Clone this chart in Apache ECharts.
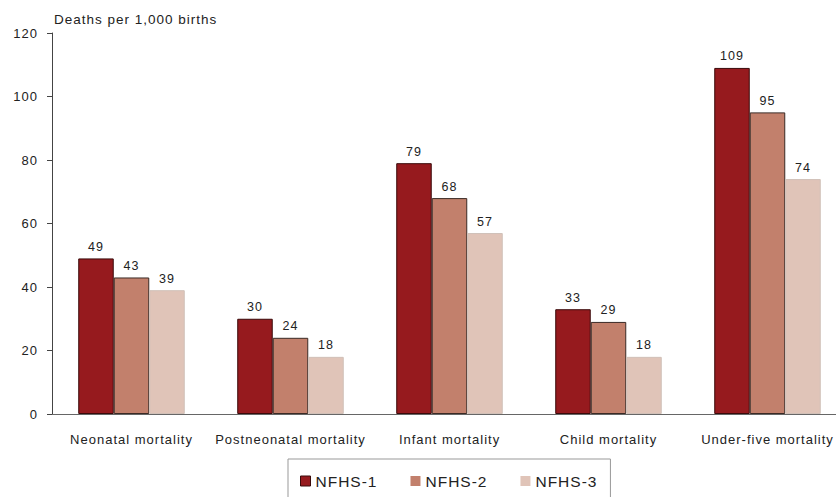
<!DOCTYPE html>
<html><head><meta charset="utf-8">
<script src="https://cdn.jsdelivr.net/npm/echarts@6/dist/echarts.min.js"></script>
<style>html,body{margin:0;padding:0;background:#fff;overflow:hidden;width:836px;height:497px}#c{width:860px;height:497px}#c text{letter-spacing:1px}</style>
</head><body><div id="c"></div>
<script>
const categories = ['Neonatal mortality','Postneonatal mortality','Infant mortality','Child mortality','Under-five mortality'];
const nfhs1 = [49, 30, 79, 33, 109];
const nfhs2 = [43, 24, 68, 29, 95];
const nfhs3 = [39, 18, 57, 18, 74];
const seriesNames = ['NFHS-1','NFHS-2','NFHS-3'];
const yTicks = {min: 0, max: 120, interval: 20};

const font = 'Liberation Sans, Arial, sans-serif';
const colors = ['#961A1E', '#C2806C', '#E0C4B8'];
const borders = ['#3a0a0a', '#3a2a25', '#d0c0b8'];
const chart = echarts.init(document.getElementById('c'), null, {renderer: 'svg'});
function mk(name, data, i) {
  return {
    name, type: 'bar', data,
    barGap: '0%', barCategoryGap: '33%',
    itemStyle: {color: colors[i], borderColor: borders[i], borderWidth: 1},
    label: {show: true, position: 'top', distance: 5, color: '#222', fontSize: 12.5, fontFamily: font},
    emphasis: {disabled: true}
  };
}
chart.setOption({
  animation: false,
  textStyle: {fontFamily: font},
  title: {text: 'Deaths per 1,000 births', left: 54, top: 12, padding: 0,
    textStyle: {fontSize: 13.5, fontWeight: 'normal', color: '#222', fontFamily: font}},
  grid: {left: 52, top: 33, width: 795, height: 381, containLabel: false},
  legend: {
    data: [
      {name: seriesNames[0], itemStyle: {borderColor: '#3a0a0a', borderWidth: 1}},
      {name: seriesNames[1], itemStyle: {borderWidth: 0}},
      {name: seriesNames[2], itemStyle: {borderWidth: 0}}
    ],
    left: 288, top: 459,
    padding: [14, 19, 40, 12], itemGap: 39,
    borderColor: '#999', borderWidth: 1,
    itemWidth: 10, itemHeight: 10,
    textStyle: {fontSize: 15.5, color: '#222', fontFamily: font},
    icon: 'rect'
  },
  xAxis: {
    type: 'category', data: categories,
    axisLine: {lineStyle: {color: '#666', width: 1}},
    axisTick: {show: false},
    axisLabel: {margin: 19, fontSize: 13, color: '#222', fontFamily: font, interval: 0}
  },
  yAxis: {
    type: 'value', min: yTicks.min, max: yTicks.max, interval: yTicks.interval,
    axisLine: {show: true, lineStyle: {color: '#444'}},
    axisTick: {show: true, length: 5, lineStyle: {color: '#444'}},
    splitLine: {show: false},
    axisLabel: {margin: 14, fontSize: 13, color: '#222', fontFamily: font}
  },
  series: [mk(seriesNames[0], nfhs1, 0), mk(seriesNames[1], nfhs2, 1), mk(seriesNames[2], nfhs3, 2)]
});
</script></body></html>
